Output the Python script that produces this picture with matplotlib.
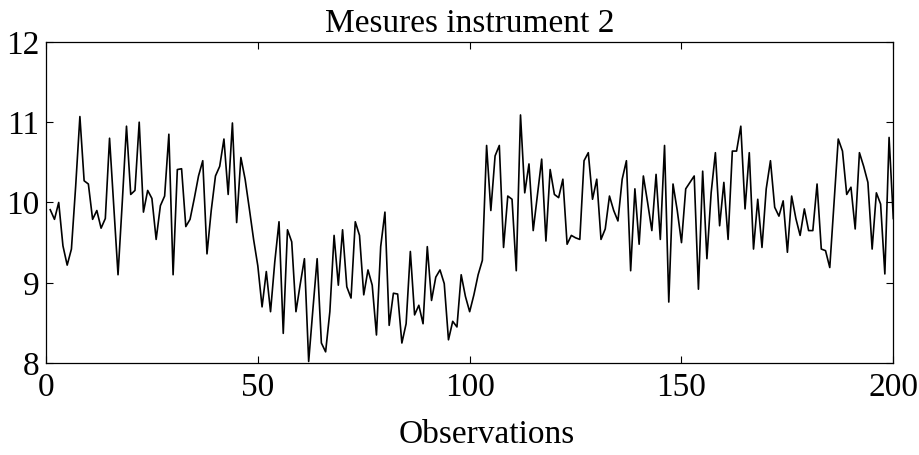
import numpy as np
import matplotlib
matplotlib.use("Agg")
import matplotlib.pyplot as plt

# values, observations 1..200
mesures = [
    9.91, 9.79, 10.00, 9.46, 9.22, 9.42, 10.20, 11.07, 10.27, 10.23,
    9.79, 9.90, 9.68, 9.80, 10.80, 9.95, 9.10, 10.00, 10.95, 10.10,
    10.15, 11.00, 9.88, 10.15, 10.05, 9.54, 9.96, 10.08, 10.85, 9.10,
    10.41, 10.42, 9.70, 9.79, 10.05, 10.33, 10.52, 9.36, 9.90, 10.33,
    10.45, 10.79, 10.10, 10.99, 9.75, 10.56, 10.29, 9.92, 9.54, 9.21,
    8.70, 9.14, 8.64, 9.26, 9.76, 8.37, 9.66, 9.51, 8.64, 8.98,
    9.30, 8.02, 8.67, 9.30, 8.25, 8.14, 8.64, 9.59, 8.97, 9.66,
    8.95, 8.81, 9.76, 9.59, 8.85, 9.16, 8.97, 8.35, 9.45, 9.88,
    8.47, 8.87, 8.86, 8.25, 8.49, 9.39, 8.60, 8.72, 8.49, 9.45,
    8.78, 9.07, 9.16, 8.99, 8.29, 8.52, 8.45, 9.10, 8.83, 8.64,
    8.85, 9.10, 9.28, 10.71, 9.90, 10.58, 10.71, 9.44, 10.08, 10.04,
    9.15, 11.09, 10.12, 10.48, 9.65, 10.10, 10.54, 9.52, 10.41, 10.10,
    10.06, 10.29, 9.48, 9.59, 9.56, 9.54, 10.52, 10.62, 10.04, 10.29,
    9.54, 9.67, 10.08, 9.90, 9.77, 10.29, 10.52, 9.15, 10.17, 9.48,
    10.33, 10.00, 9.65, 10.35, 9.54, 10.71, 8.76, 10.23, 9.90, 9.50,
    10.17, 10.25, 10.33, 8.92, 10.39, 9.30, 10.12, 10.62, 9.71, 10.25,
    9.54, 10.64, 10.64, 10.95, 9.92, 10.62, 9.42, 10.04, 9.44, 10.17,
    10.52, 9.94, 9.83, 10.02, 9.38, 10.08, 9.80, 9.59, 9.92, 9.65,
    9.65, 10.23, 9.42, 9.40, 9.19, 10.00, 10.79, 10.64, 10.10, 10.19,
    9.67, 10.62, 10.45, 10.25, 9.42, 10.12, 9.98, 9.11, 10.81, 9.80,
]
obs = np.arange(1, len(mesures) + 1)

xticks = [0, 50, 100, 150, 200]
yticks = [8, 9, 10, 11, 12]

plt.rcParams['font.family'] = ['Liberation Serif', 'DejaVu Serif']

fig = plt.figure(figsize=(9.2, 4.55), dpi=100)
ax = fig.add_axes([0.05, 0.202, 0.921, 0.706])

ax.plot(obs, mesures, color="black", linewidth=1.2)

ax.set_xlim(0, 200)
ax.set_ylim(8, 12)
ax.set_xticks(xticks)
ax.set_yticks(yticks)
ax.tick_params(direction="in", top=True, right=True, length=5, width=0.8,
               labelsize=24)
ax.tick_params(axis="x", pad=7)
ax.tick_params(axis="y", pad=5)
for s in ax.spines.values():
    s.set_linewidth(0.9)

ax.set_title("Mesures instrument 2", fontsize=24, pad=7)
ax.set_xlabel("Observations", fontsize=24)
ax.xaxis.set_label_coords(0.52, -0.175)

fig.savefig("out.png", dpi=100)
